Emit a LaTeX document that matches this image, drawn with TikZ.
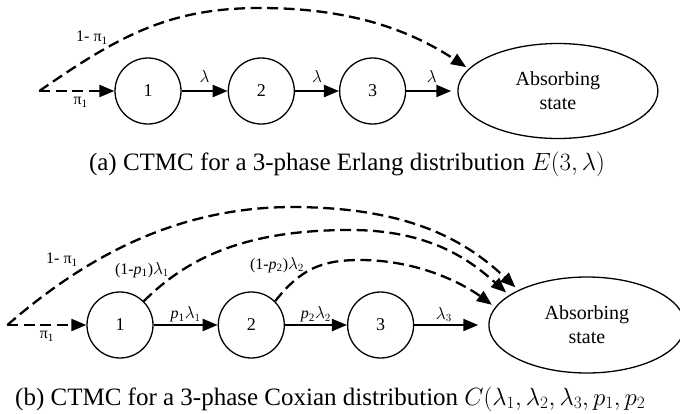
\documentclass[tikz,border=0pt]{standalone}
\usepackage{fontspec}
\setmainfont{Liberation Serif}
\usetikzlibrary{arrows.meta, positioning, shapes.geometric}

\begin{document}
\begin{tikzpicture}[x=1pt, y=-1pt,
    phase/.style={circle, draw, line width=1.3pt, minimum size=66pt, inner sep=0pt,
      font=\fontsize{18}{20}\selectfont},
    absorb/.style={ellipse, draw, line width=1.3pt, inner sep=0pt, align=center,
      font=\fontsize{20}{24}\selectfont},
    arrow/.style={-{Triangle[length=15pt, width=12pt]}, line width=2.3pt},
    jump/.style={arrow, dash pattern=on 11pt off 5.5pt},
    rate/.style={font=\fontsize{16}{18}\selectfont, inner sep=2pt},
    caption/.style={font=\fontsize{25}{28}\selectfont, inner sep=0pt}
  ]
  \useasboundingbox (0,0) rectangle (680,413);

  % (a) Erlang chain
  \node[phase] (a1) at (148,91) {1};
  \node[phase, right=46pt of a1] (a2) {2};
  \node[phase, right=44pt of a2] (a3) {3};
  \node[absorb, minimum width=200pt, minimum height=95pt, right=51pt of a3] (aE) {Absorbing\\state};
  \coordinate[left=75pt of a1] (a0);

  \draw[jump] (a0) -- node[rate, below=3pt, pos=0.55] {π\textsubscript{1}} (a1);
  \draw[arrow] (a1) -- node[rate, above=5pt] {$\lambda$} (a2);
  \draw[arrow] (a2) -- node[rate, above=5pt] {$\lambda$} (a3);
  \draw[arrow, shorten >=6pt] (a3) -- node[rate, above=5pt] {$\lambda$} (aE);
  \draw[jump, shorten >=3pt] (a0) .. controls (120,35) and (170,8) .. (260,8)
    .. controls (350,8) and (410,30) .. (aE.166);
  \node[rate] (aSkip) at (92,38) {1- π\textsubscript{1}};

  \node[caption] (aCap) at (347,164) {(a) CTMC for a 3-phase Erlang distribution $E(3,\lambda)$};

  % (b) Coxian chain
  \node[phase] (b1) at (120,325) {1};
  \node[phase, right=64pt of b1] (b2) {2};
  \node[phase, right=62pt of b2] (b3) {3};
  \node[absorb, minimum width=196pt, minimum height=96pt, right=74pt of b3] (bE) {Absorbing\\state};
  \coordinate[left=79pt of b1] (b0);

  \draw[jump] (b0) -- node[rate, below=3pt] {π\textsubscript{1}} (b1);
  \draw[arrow] (b1) -- node[rate, above] {\textit{p}\textsubscript{1}$\lambda_1$} (b2);
  \draw[arrow] (b2) -- node[rate, above] {\textit{p}\textsubscript{2}$\lambda_2$} (b3);
  \draw[arrow, shorten >=10pt] (b3) -- node[rate, above, pos=0.4] {$\lambda_3$} (bE);
  \draw[jump, shorten >=4pt] (b0) .. controls (80,262) and (170,208) .. (290,207)
    .. controls (400,207) and (460,235) .. (bE.153);
  \draw[jump, shorten >=4pt] (b1.45) .. controls (190,255) and (250,230) .. (350,230)
    .. controls (430,230) and (470,260) .. (bE.159);
  \draw[jump, shorten >=4pt] (b2.45) .. controls (300,270) and (320,260) .. (360,260)
    .. controls (420,260) and (465,285) .. (bE.169);
  \node[rate] (bSkip) at (62,260) {1- π\textsubscript{1}};
  \node[rate] (bExit1) at (142,270) {(1-\textit{p}\textsubscript{1})$\lambda_1$};
  \node[rate] (bExit2) at (277,265) {(1-\textit{p}\textsubscript{2})$\lambda_2$};

  \node[caption, anchor=west] (bCap) at (15,399) {(b) CTMC for a 3-phase Coxian distribution $C(\lambda_1,\lambda_2,\lambda_3,p_1,p_2$};
\end{tikzpicture}
\end{document}
